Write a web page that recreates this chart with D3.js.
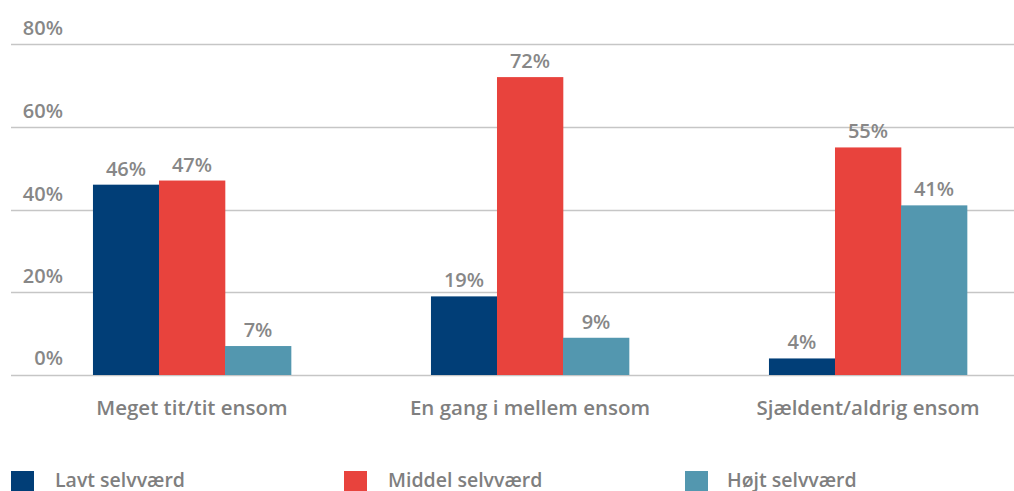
<!DOCTYPE html>
<html><head><meta charset="utf-8">
<script src="https://cdn.jsdelivr.net/npm/d3@7"></script>
<style>
html,body{margin:0;padding:0;background:#fff;}
svg{display:block;font-family:"Open Sans",sans-serif;font-weight:600;}
</style></head>
<body>
<svg id="c" width="1014" height="491"></svg>
<script>
const categories = ["Meget tit/tit ensom","En gang i mellem ensom","Sjældent/aldrig ensom"];
const seriesNames = ["Lavt selvværd","Middel selvværd","Højt selvværd"];
const lavt = [46,19,4];
const middel = [47,72,55];
const hojt = [7,9,41];
const yTicks = [0,20,40,60,80];
const colors = ["#013e77","#e8433d","#5397af"];

const seriesVals = [lavt, middel, hojt];
const svg = d3.select("#c");
const y = d3.scaleLinear().domain([0,80]).range([375,44]);
const x0 = d3.scaleBand().domain(categories).range([23,1037]).paddingInner(0.414).paddingOuter(0.207);
const x1 = d3.scaleBand().domain(seriesNames).range([0,x0.bandwidth()]);

svg.selectAll("line.grid").data(yTicks).join("line")
  .attr("x1",11).attr("x2",1014)
  .attr("y1",d=>Math.round(y(d))+0.5).attr("y2",d=>Math.round(y(d))+0.5)
  .attr("stroke","#c6c6c6").attr("stroke-width",1.3);
svg.selectAll("text.ytick").data(yTicks).join("text")
  .attr("x",63).attr("y",d=>y(d)-(d===0?10:9))
  .attr("text-anchor","end").attr("fill","#878787").attr("font-size",20)
  .text(d=>d+"%");

const groups = svg.selectAll("g.grp").data(categories).join("g")
  .attr("transform",c=>`translate(${x0(c)},0)`);
groups.selectAll("rect").data((c,i)=>seriesNames.map((s,j)=>({s,j,v:seriesVals[j][i]}))).join("rect")
  .attr("x",d=>x1(d.s)).attr("width",x1.bandwidth()+0.3)
  .attr("y",d=>y(d.v)).attr("height",d=>y(0)-y(d.v))
  .attr("fill",d=>colors[d.j]);
groups.selectAll("text.val").data((c,i)=>seriesNames.map((s,j)=>({s,j,v:seriesVals[j][i]}))).join("text")
  .attr("class","val")
  .attr("x",d=>x1(d.s)+x1.bandwidth()/2).attr("y",d=>y(d.v)-9)
  .attr("text-anchor","middle").attr("fill","#878787").attr("font-size",20)
  .text(d=>d.v+"%");
groups.append("text")
  .attr("x",x0.bandwidth()/2).attr("y",415)
  .attr("text-anchor","middle").attr("fill","#7f7f7f").attr("font-size",20.5)
  .text(c=>c);

const lx = d3.scaleOrdinal().domain(seriesNames).range([11,344,685]);
const lg = svg.selectAll("g.leg").data(seriesNames).join("g")
  .attr("transform",s=>`translate(${lx(s)},0)`);
lg.append("rect").attr("x",0).attr("y",471).attr("width",23).attr("height",22)
  .attr("fill",(s,i)=>colors[i]);
lg.append("text").attr("x",(s,i)=>[44,44,42][i]).attr("y",487).attr("fill","#7f7f7f").attr("font-size",19.5)
  .text(s=>s);
</script>
</body></html>
